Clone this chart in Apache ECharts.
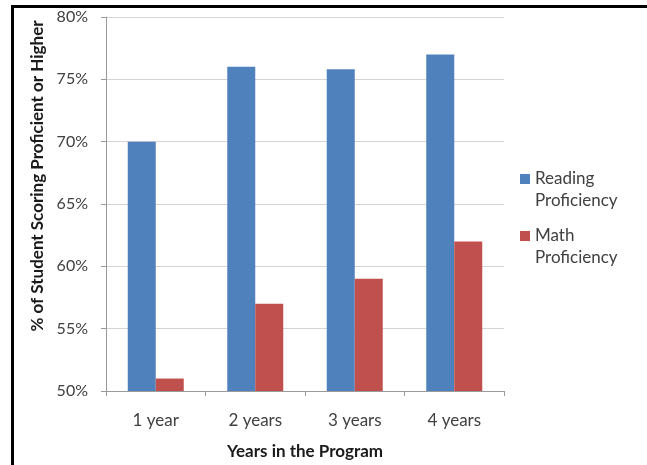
<!DOCTYPE html>
<html>
<head>
<meta charset="utf-8">
<script src="https://cdn.jsdelivr.net/npm/echarts@6/dist/echarts.min.js"></script>
<style>
html,body{margin:0;padding:0;background:#fff;}
#wrap{position:relative;width:647px;height:465px;}
#frame{position:absolute;left:11px;top:5px;right:-5px;bottom:-5px;border-left:3px solid #000;border-top:3px solid #000;pointer-events:none;}
#chart{position:absolute;left:0;top:0;width:647px;height:465px;}
</style>
</head>
<body>
<div id="wrap"><div id="chart"></div><div id="frame"></div></div>
<script>
const categories = ['1 year', '2 years', '3 years', '4 years'];
const readingValues = [70, 76, 75.8, 77];
const mathValues = [51, 57, 59, 62];
const seriesNames = ['Reading Proficiency', 'Math Proficiency'];
const yTicks = { min: 50, max: 80, interval: 5 };

const FONT = 'Lato, "Open Sans", sans-serif';
const chart = echarts.init(document.getElementById('chart'), null, { renderer: 'canvas' });
const legendText = { fontFamily: FONT, fontSize: 17, color: '#404040', lineHeight: 22 };
const legendIcon = 'path://M0,0h10v10h-10z M0,32h10';
function legendFor(name, top) {
  return {
    data: [name], orient: 'vertical', left: 520, top: top, padding: 0,
    icon: legendIcon, itemWidth: 10, itemHeight: 32, itemGap: 0,
    textStyle: legendText,
    formatter: n => n.replace(' ', '\n')
  };
}
chart.setOption({
  animation: false,
  backgroundColor: '#fff',
  grid: { left: 106, right: 143, top: 17, bottom: 73, containLabel: false },
  legend: [legendFor(seriesNames[0], 168), legendFor(seriesNames[1], 225)],
  xAxis: {
    type: 'category',
    data: categories,
    name: 'Years in the Program',
    nameLocation: 'middle',
    nameGap: 52,
    nameTextStyle: { fontFamily: FONT, fontSize: 17, fontWeight: 'bold', color: '#1a1a1a' },
    axisLine: { lineStyle: { color: '#9a9a9a', width: 1 } },
    axisTick: { show: true, length: 5, lineStyle: { color: '#9a9a9a' } },
    axisLabel: { fontFamily: FONT, fontSize: 17, color: '#404040', margin: 21 }
  },
  yAxis: {
    type: 'value',
    min: yTicks.min, max: yTicks.max, interval: yTicks.interval,
    name: '% of Student Scoring Proficient or Higher',
    nameLocation: 'middle',
    nameGap: 59,
    nameTextStyle: { fontFamily: FONT, fontSize: 17, fontWeight: 'bold', color: '#1a1a1a',
      padding: [0, 0, 0, 56] },
    axisLine: { show: true, lineStyle: { color: '#9a9a9a', width: 1 } },
    axisTick: { show: true, length: 5, lineStyle: { color: '#9a9a9a' } },
    splitLine: { lineStyle: { color: '#d4d4d4', width: 1 } },
    axisLabel: { fontFamily: FONT, fontSize: 16, color: '#404040', margin: 18,
      formatter: v => v + '%' }
  },
  series: [
    { name: seriesNames[0], type: 'bar', data: readingValues, barWidth: 28, barGap: '0%',
      itemStyle: { color: '#4F81BD' } },
    { name: seriesNames[1], type: 'bar', data: mathValues, barWidth: 28, barGap: '0%',
      itemStyle: { color: '#C0504D' } }
  ]
});
</script>
</body>
</html>
